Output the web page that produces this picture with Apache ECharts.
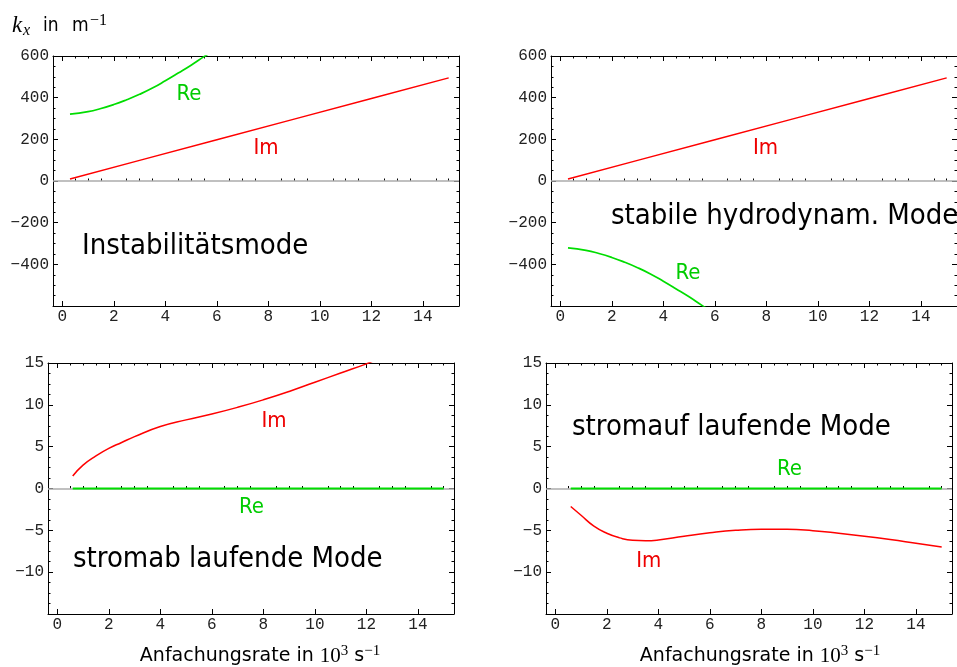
<!DOCTYPE html>
<html><head><meta charset="utf-8">
<script src="https://cdn.jsdelivr.net/npm/echarts@6/dist/echarts.min.js"></script>
<style>html,body{margin:0;padding:0;background:#fff}#c{width:957px;height:667px}</style>
</head><body><div id="c"></div>
<script>
// ---- tick labels / positions ----
const xMajorTicks = [0, 2, 4, 6, 8, 10, 12, 14];
const xMinorTicks = [0.5, 1, 1.5, 2.5, 3, 3.5, 4.5, 5, 5.5, 6.5, 7, 7.5, 8.5, 9, 9.5, 10.5, 11, 11.5, 12.5, 13, 13.5, 14.5, 15];
const xMin = -0.36, xMax = 15.4;

// ---- top-left: Instabilitätsmode ----
const tlImX = [0.3, 3, 6, 9, 12, 15];
const tlIm  = [10, 99, 198, 297, 396, 495];
const tlReX = [0.3, 1, 1.5, 2, 2.5, 3, 3.5, 4, 4.5, 5, 5.5, 5.7];
const tlRe  = [321, 333, 348, 367, 390, 416, 446, 481, 518, 556, 597, 612];

// ---- top-right: stabile hydrodynam. Mode ----
const trImX = [0.3, 3, 6, 9, 12, 15];
const trIm  = [10, 99, 198, 297, 396, 495];
const trReX = [0.3, 1, 1.5, 2, 2.5, 3, 3.5, 4, 4.5, 5, 5.5, 5.7];
const trRe  = [-321, -333, -348, -367, -390, -416, -446, -481, -518, -556, -597, -612];

// ---- bottom-left: stromab laufende Mode ----
const blImX = [0.6, 1, 1.5, 2, 2.5, 3, 4, 5, 6, 7, 8, 9, 10, 11, 12, 12.3];
const blIm  = [1.5, 2.8, 3.9, 4.8, 5.5, 6.2, 7.4, 8.2, 8.9, 9.7, 10.6, 11.6, 12.7, 13.8, 14.9, 15.3];
const blReX = [0.6, 15];
const blRe  = [0, 0];

// ---- bottom-right: stromauf laufende Mode ----
const brImX = [0.6, 1, 1.5, 2, 2.5, 3, 3.5, 4, 5, 6, 7, 8, 9, 10, 11, 12, 13, 14, 15];
const brIm  = [-2.15, -3.2, -4.5, -5.35, -5.9, -6.2, -6.25, -6.15, -5.7, -5.3, -5.0, -4.87, -4.88, -5.05, -5.35, -5.7, -6.1, -6.55, -7.0];
const brReX = [0.6, 15];
const brRe  = [0, 0];

const RED = '#ff0000', GREEN = '#00dd00';
const MONO = '"Liberation Mono", "DejaVu Sans Mono", monospace';
const SANS = '"DejaVu Sans Condensed", "DejaVu Sans", sans-serif';
const SANSW = '"DejaVu Sans", sans-serif';
const SERIF = '"Liberation Serif", "DejaVu Serif", serif';

const panels = [
  {grid: {left: 53, top: 56, width: 406, height: 250}, yMin: -600, yMax: 600, yInt: 200,
   im: [tlImX, tlIm], re: [tlReX, tlRe]},
  {grid: {left: 551, top: 56, width: 406, height: 250}, yMin: -600, yMax: 600, yInt: 200,
   im: [trImX, trIm], re: [trReX, trRe]},
  {grid: {left: 48, top: 363, width: 406, height: 251}, yMin: -15, yMax: 15, yInt: 5,
   im: [blImX, blIm], re: [blReX, blRe]},
  {grid: {left: 546, top: 363, width: 406, height: 251}, yMin: -15, yMax: 15, yInt: 5,
   im: [brImX, brIm], re: [brReX, brRe]}
];

const zip = (xs, ys) => xs.map((x, i) => [x, ys[i]]);
const fmt = v => String(v).replace('-', '\u2212');

const grids = [], xAxis = [], yAxis = [], series = [];
panels.forEach((p, i) => {
  grids.push(Object.assign({}, p.grid));
  const lab = {fontFamily: MONO, fontSize: 16, color: '#222'};
  ['bottom', 'top'].forEach(pos => {
    xAxis.push({
      gridIndex: i, type: 'value', min: xMin, max: xMax, position: pos,
      axisLine: {show: true, onZero: false, lineStyle: {color: '#000', width: 1}},
      axisTick: {show: true, inside: true, length: 5, customValues: xMajorTicks, lineStyle: {color: '#000', width: 1}},
      axisLabel: pos === 'bottom'
        ? Object.assign({show: true, customValues: xMajorTicks, margin: 3, formatter: fmt}, lab)
        : {show: false},
      splitLine: {show: false}
    });
  });
  ['left', 'right'].forEach(pos => {
    yAxis.push({
      gridIndex: i, type: 'value', min: p.yMin, max: p.yMax, interval: p.yInt, position: pos,
      axisLine: {show: true, onZero: false, lineStyle: {color: '#000', width: 1}},
      axisTick: {show: true, inside: true, length: 5, lineStyle: {color: '#000', width: 1}},
      minorTick: {show: true, splitNumber: 4, length: 2.5, lineStyle: {color: '#000', width: 1}},
      axisLabel: pos === 'left'
        ? Object.assign({show: true, margin: 4, formatter: v => v === p.yMin ? '' : fmt(v)}, lab)
        : {show: false},
      splitLine: {show: false}
    });
  });
  const xi = i * 2, yi = i * 2;
  series.push({
    type: 'line', xAxisIndex: xi, yAxisIndex: yi, data: [], z: 1, silent: true,
    markLine: {silent: true, z: 1, symbol: 'none', animation: false, label: {show: false},
      lineStyle: {color: '#ababab', width: 1.6, type: 'solid'}, data: [{yAxis: 0}]}
  });
  series.push({
    type: 'line', xAxisIndex: xi, yAxisIndex: yi, data: zip(p.re[0], p.re[1]), z: 6,
    showSymbol: false, smooth: p.re[0].length > 2, clip: true,
    lineStyle: {color: GREEN, width: p.re[0].length > 2 ? 1.7 : 2.2}
  });
  series.push({
    type: 'line', xAxisIndex: xi, yAxisIndex: yi, data: zip(p.im[0], p.im[1]), z: 6,
    showSymbol: false, smooth: p.im[0].length > 6, clip: true,
    lineStyle: {color: RED, width: 1.5}
  });
});
// overlay grids carrying minor x ticks
panels.forEach((p, i) => {
  const gi = grids.length;
  grids.push(Object.assign({}, p.grid));
  ['bottom', 'top'].forEach(pos => {
    xAxis.push({
      gridIndex: gi, type: 'value', min: xMin, max: xMax, position: pos,
      axisLine: {show: false},
      axisTick: {show: true, inside: true, length: 2.5, customValues: xMinorTicks, lineStyle: {color: '#000', width: 1}},
      axisLabel: {show: false}, splitLine: {show: false}
    });
  });
  yAxis.push({gridIndex: gi, type: 'value', min: p.yMin, max: p.yMax, show: false});
});

const txt = (x, y, text, font, color, align) => ({
  type: 'text', x: x, y: y, z: 100, silent: true,
  style: {text: text, fill: color, font: font,
          align: align || 'center', verticalAlign: 'middle',
          textAlign: align || 'center', textVerticalAlign: 'middle'}
});
const RT = '#ee0000', GT = '#00cc00';
const LBL = '22px ' + SANS, BIG = '29px ' + SANS;
const graphic = [
  txt(189, 94, 'Re', LBL, GT), txt(266, 148.7, 'Im', LBL, RT),
  txt(82, 246.5, 'Instabilitätsmode', BIG, '#000', 'left'),
  txt(765.5, 148.5, 'Im', LBL, RT), txt(688, 273, 'Re', LBL, GT),
  txt(611, 216.7, 'stabile hydrodynam. Mode', BIG, '#000', 'left'),
  txt(274, 421.5, 'Im', LBL, RT), txt(251.5, 507.5, 'Re', LBL, GT),
  txt(73, 559, 'stromab laufende Mode', BIG, '#000', 'left'),
  txt(572, 427.5, 'stromauf laufende Mode', BIG, '#000', 'left'),
  txt(789.5, 469, 'Re', LBL, GT), txt(648.7, 561.7, 'Im', LBL, RT),
  // y title: k_x in m^-1
  txt(12, 25.5, 'k', 'italic 23px ' + SERIF, '#000', 'left'),
  txt(23, 31, 'x', 'italic 16px ' + SERIF, '#000', 'left'),
  txt(43, 26.5, 'in', '19px ' + SANS, '#000', 'left'),
  txt(72, 26.5, 'm', '19px ' + SANS, '#000', 'left'),
  txt(90, 20.5, '\u22121', '16px ' + SERIF, '#000', 'left')
];
const xTitle = (cx) => ({
  type: 'text', x: cx, y: 656, z: 100, silent: true,
  style: {
    text: '{a|Anfachungsrate in }{n|10}{s|3}{a| s}{s|\u22121}',
    align: 'center', verticalAlign: 'middle',
    rich: {
      a: {font: '19px ' + SANSW, fill: '#000', lineHeight: 24},
      n: {font: '21px ' + SERIF, fill: '#000', lineHeight: 24},
      s: {font: '15px ' + SERIF, fill: '#000', lineHeight: 14, padding: [0, 0, 10, 0]}
    }
  }
});
graphic.push(xTitle(260), xTitle(760));

const chart = echarts.init(document.getElementById('c'), null, {renderer: 'canvas'});
chart.setOption({
  animation: false, backgroundColor: '#fff',
  grid: grids, xAxis: xAxis, yAxis: yAxis, series: series, graphic: graphic
});
</script></body></html>
